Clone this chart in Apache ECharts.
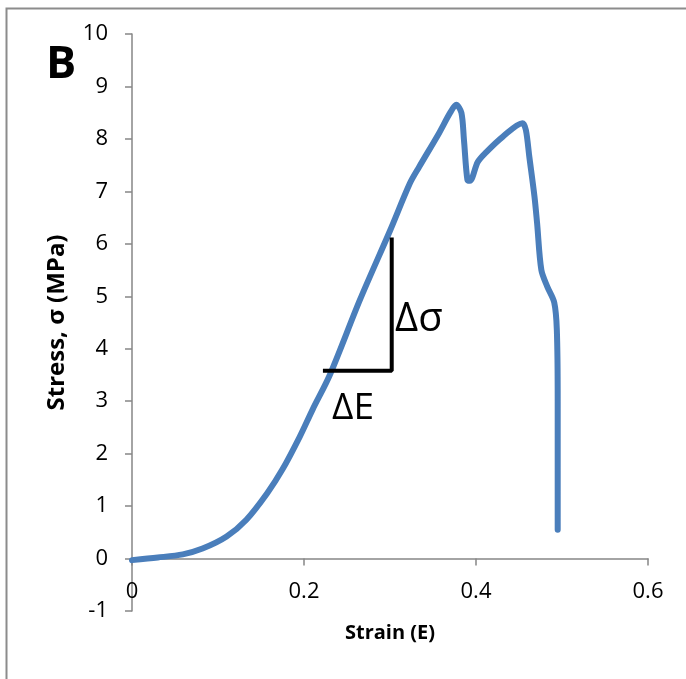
<!DOCTYPE html>
<html>
<head>
<meta charset="utf-8">
<script src="https://cdn.jsdelivr.net/npm/echarts@6/dist/echarts.min.js"></script>
<style>
  html, body { margin: 0; padding: 0; background: #fff; }
  #chart { width: 686px; height: 679px; }
</style>
</head>
<body>
<div id="chart"></div>
<script>
// 应力-应变曲线 (strain, stress)
var strain = [0, 0.03, 0.059, 0.082, 0.11, 0.133, 0.157, 0.175, 0.195, 0.21, 0.23,
              0.265, 0.3, 0.323, 0.334, 0.357, 0.37, 0.377, 0.383, 0.386, 0.39, 0.393,
              0.402, 0.412, 0.431, 0.454, 0.458, 0.462, 0.468, 0.471, 0.476, 0.483, 0.491,
              0.494, 0.495, 0.495, 0.495];
var stress = [-0.03, 0.02, 0.08, 0.19, 0.42, 0.74, 1.24, 1.7, 2.32, 2.84, 3.5,
              4.93, 6.25, 7.15, 7.47, 8.11, 8.5, 8.65, 8.5, 7.98, 7.22, 7.2,
              7.56, 7.75, 8.04, 8.3, 8.17, 7.66, 6.9, 6.4, 5.5, 5.18, 4.88,
              4.36, 3.0, 1.75, 0.55];

// 斜率示意线 ΔE / Δσ
var slopeX = [0.222, 0.302, 0.302];
var slopeY = [3.58, 3.58, 6.12];

var xTicks = [0, 0.2, 0.4, 0.6];
var yMin = -1, yMax = 10;

function pairs(xs, ys) {
    var out = [];
    for (var i = 0; i < xs.length; i++) out.push([xs[i], ys[i]]);
    return out;
}

var chartData = echarts.init(document.getElementById('chart'));
var font = '"Open Sans", "Liberation Sans", sans-serif';

chartData.setOption({
    backgroundColor: '#fff',
    animation: false,
    grid: { left: 132, top: 34, width: 516, height: 577, outerBoundsMode: 'none', containLabel: false },
    xAxis: {
        type: 'value',
        min: xTicks[0],
        max: xTicks[xTicks.length - 1],
        interval: 0.2,
        name: 'Strain (E)',
        nameLocation: 'middle',
        nameGap: 12,
        nameMoveOverlap: false,
        nameTextStyle: { fontFamily: font, fontWeight: 'bold', fontSize: 20, color: '#000' },
        axisLine: { onZero: true, lineStyle: { color: '#868686', width: 1.5 } },
        axisTick: { show: true, length: 7, lineStyle: { color: '#868686', width: 1.5 } },
        axisLabel: {
            margin: -30, fontFamily: font, fontSize: 22, color: '#000',
            formatter: function (v) { return String(Math.round(v * 10) / 10); }
        },
        splitLine: { show: false }
    },
    yAxis: {
        type: 'value',
        min: yMin,
        max: yMax,
        interval: 1,
        name: 'Stress, σ (MPa)',
        nameLocation: 'middle',
        nameGap: 63,
        nameTextStyle: { fontFamily: font, fontWeight: 'bold', fontSize: 24, color: '#000' },
        axisLine: { show: true, lineStyle: { color: '#868686', width: 1.5 } },
        axisTick: { show: true, length: 7, lineStyle: { color: '#868686', width: 1.5 } },
        axisLabel: { margin: 24, fontFamily: font, fontSize: 22, color: '#000' },
        splitLine: { show: false }
    },
    series: [
        {
            type: 'line',
            data: pairs(strain, stress),
            showSymbol: false,
            smooth: 0.3,
            lineStyle: { color: '#4a7ebb', width: 6, cap: 'round', join: 'round' },
            z: 3
        },
        {
            type: 'line',
            data: pairs(slopeX, slopeY),
            showSymbol: false,
            lineStyle: { color: '#000', width: 4 },
            z: 4
        }
    ],
    graphic: [
        {
            type: 'rect', left: 4, top: 6, silent: true,
            shape: { width: 720, height: 720 },
            style: { fill: 'none', stroke: '#8c8c8c', lineWidth: 2 }
        },
        {
            type: 'text', left: 46, top: 43,
            style: { text: 'B', font: 'bold 45px ' + font, fill: '#000' }
        },
        {
            type: 'text', left: 395, top: 300,
            style: { text: 'Δσ', font: '40px ' + font, fill: '#000' }
        },
        {
            type: 'text', left: 332, top: 390,
            style: { text: 'ΔE', font: '37px ' + font, fill: '#000' }
        }
    ]
});
</script>
</body>
</html>
